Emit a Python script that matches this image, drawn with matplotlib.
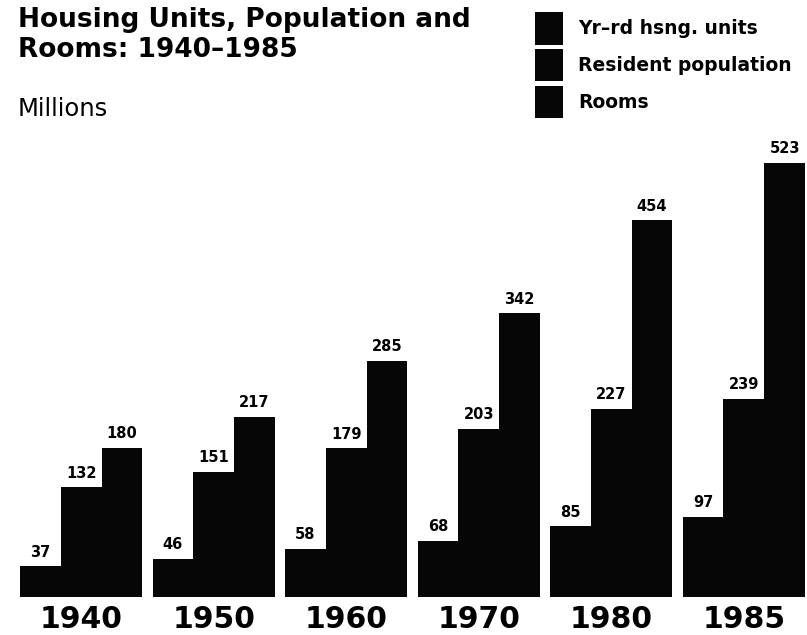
import matplotlib
matplotlib.use("Agg")
import matplotlib.pyplot as plt
import numpy as np

years = ['1940', '1950', '1960', '1970', '1980', '1985']
units = [37, 46, 58, 68, 85, 97]
population = [132, 151, 179, 203, 227, 239]
rooms = [180, 217, 285, 342, 454, 523]
series_names = ['Yr\u2013rd hsng. units', 'Resident population', 'Rooms']

plt.rcParams['font.family'] = ['DejaVu Sans']

fig = plt.figure(figsize=(8.07, 6.35), dpi=100)
w = 0.308
left_px, right_px = 20, 805
ax = fig.add_axes([left_px / 807, 38 / 635, (right_px - left_px) / 807, 448 / 635])

x = np.arange(len(years))
handles = []
for k, vals in enumerate([units, population, rooms]):
    bars = ax.bar(x + (k - 1) * w, vals, width=w, color='#060606', edgecolor='none')
    handles.append(bars)
    for xi, v in zip(x + (k - 1) * w, vals):
        ax.text(xi, v + 8, str(v), ha='center', va='bottom', fontsize=10.5,
                fontweight='bold', color='black')

ax.set_xlim(-1.5 * w, len(years) - 1 + 1.5 * w)
ax.set_ylim(0, 540)
for s in ax.spines.values():
    s.set_visible(False)
ax.set_yticks([])
ax.set_xticks(x)
ax.set_xticklabels(years, fontsize=21.5, fontweight='bold')
ax.tick_params(axis='x', length=0, pad=6)

# title block
fig.text(18 / 807, 1 - 7 / 635, 'Housing Units, Population and\nRooms: 1940\u20131985',
         ha='left', va='top', fontsize=19, fontweight='bold', linespacing=1.2)
fig.text(18 / 807, 1 - 109 / 635, 'Millions', ha='left', va='center', fontsize=17.5)

fs = 13.5
fig.legend(handles, series_names, loc='upper left', bbox_to_anchor=(535 / 807, 1 - 12 / 635),
           frameon=False, handlelength=28 / (fs * 100 / 72), handleheight=2.3,
           handletextpad=0.8, labelspacing=0.22, borderpad=0, borderaxespad=0,
           prop={'weight': 'bold', 'size': fs})

fig.savefig('out.png', dpi=100)
